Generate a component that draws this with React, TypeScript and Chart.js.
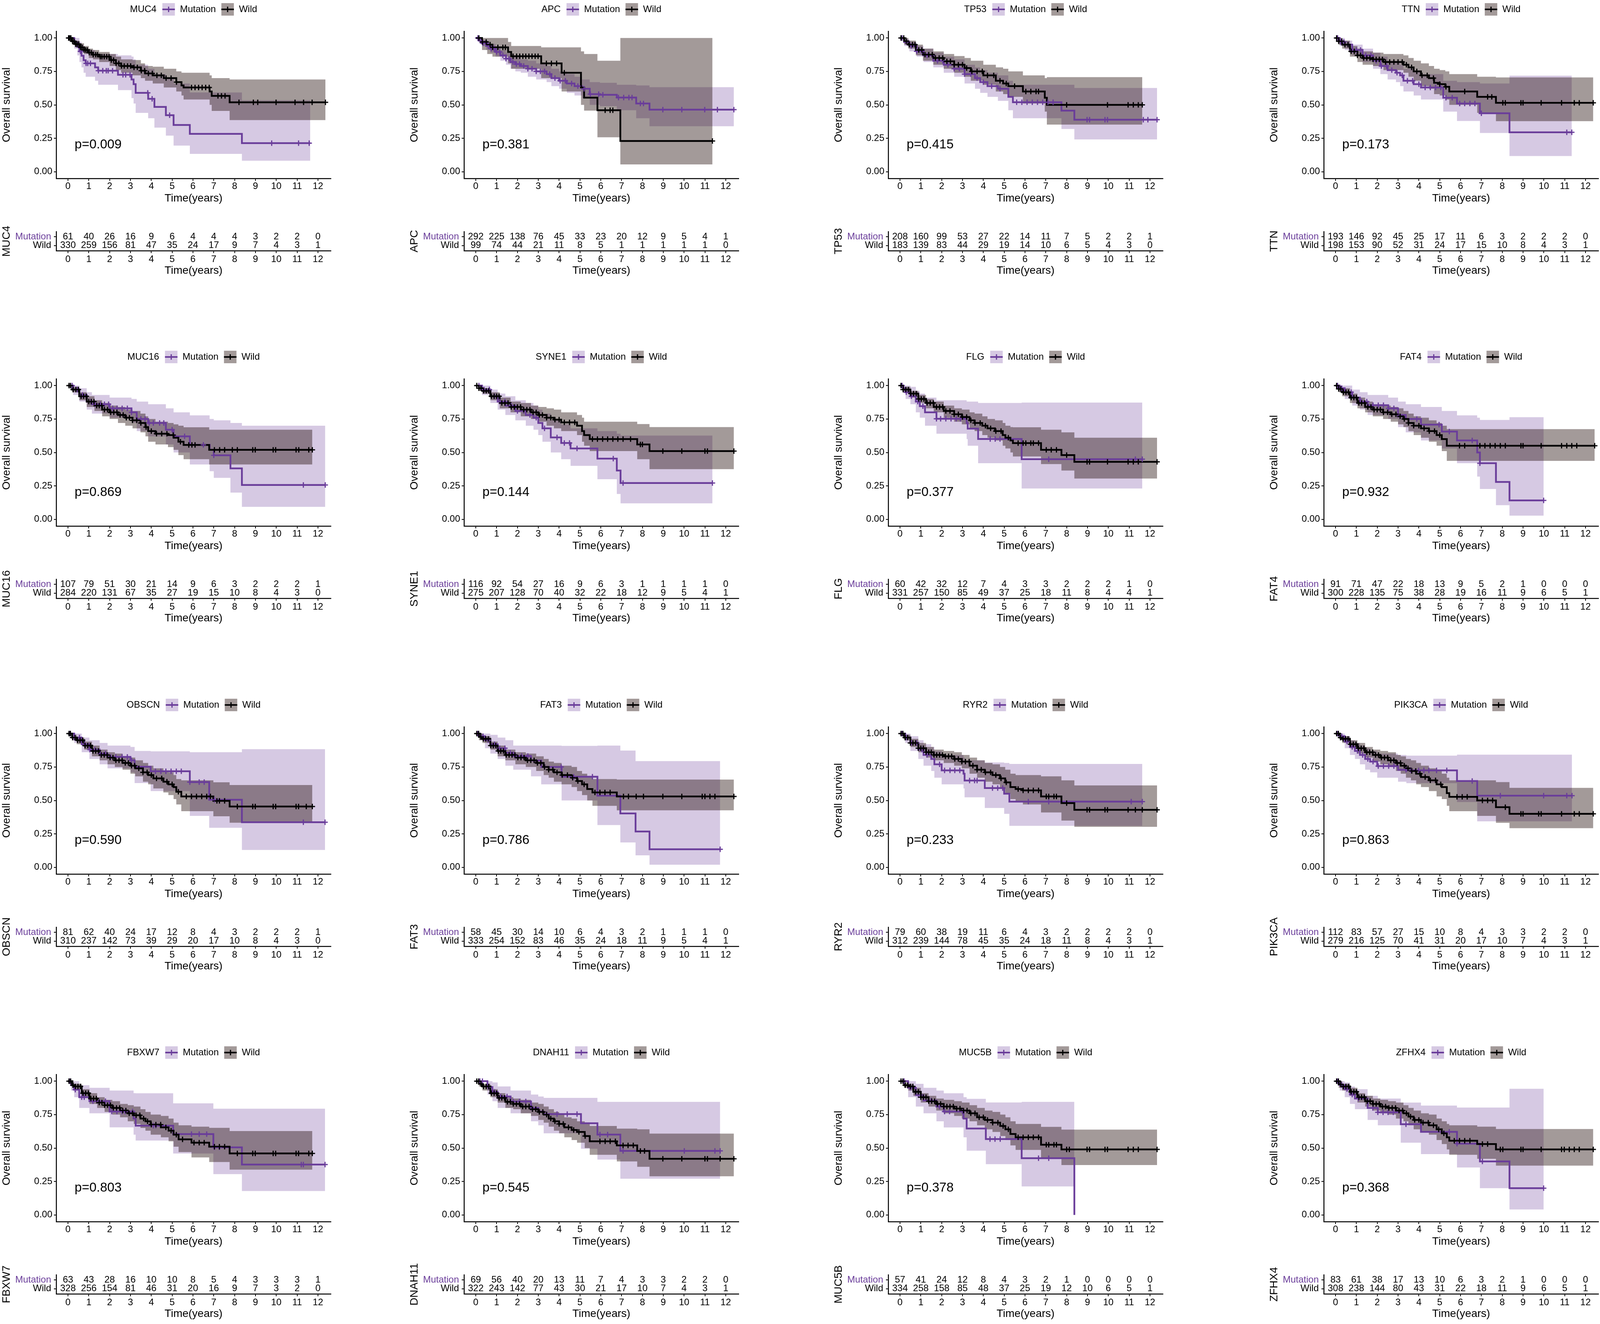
import React, { useEffect, useRef } from 'react';
import { Chart, registerables } from 'chart.js';
Chart.register(...registerables);

type Step = [number, number, number | null, number | null];

const FONT = '"Liberation Sans", Arial, Helvetica, sans-serif';
Chart.defaults.font.family = FONT;
Chart.defaults.color = '#000';

const GENES = ['MUC4', 'APC', 'TP53', 'TTN', 'MUC16', 'SYNE1', 'FLG', 'FAT4', 'OBSCN', 'FAT3', 'RYR2', 'PIK3CA', 'FBXW7', 'DNAH11', 'MUC5B', 'ZFHX4'];
const P_VALUES = ['0.009', '0.381', '0.415', '0.173', '0.869', '0.144', '0.377', '0.932', '0.590', '0.786', '0.233', '0.863', '0.803', '0.545', '0.378', '0.368'];
const TIME_TICKS = [0, 1, 2, 3, 4, 5, 6, 7, 8, 9, 10, 11, 12];
const SURV_TICKS = [0, 0.25, 0.5, 0.75, 1];
const STRATA = ['Mutation', 'Wild'];
const MUT_END = [11.63, 12.39, 12.34, 11.34, 12.35, 11.36, 11.63, 9.99, 12.34, 11.73, 11.63, 11.35, 12.34, 11.73, 8.37, 9.99];
const WILD_END = [12.36, 11.36, 11.63, 12.37, 11.73, 12.39, 12.34, 12.44, 11.73, 12.39, 12.34, 12.37, 11.73, 12.39, 12.34, 12.37];

// ---- MUC4
const MUC4_mut: Step[] = [[0.3,0.967,0.92,1.0],[0.45,0.933,0.87,1.0],[0.55,0.90,0.82,0.97],[0.65,0.867,0.78,0.95],[0.75,0.833,0.74,0.93],[0.85,0.81,0.71,0.91],[1.3,0.78,0.68,0.89],[1.45,0.755,0.65,0.88],[2.4,0.725,0.61,0.87],[3.05,0.69,0.55,0.86],[3.15,0.655,0.51,0.84],[3.25,0.59,0.44,0.80],[3.85,0.545,0.40,0.77],[4.15,0.485,0.33,0.73],[4.7,0.423,0.27,0.70],[5.07,0.35,0.196,0.66],[5.85,0.283,0.134,0.593],[8.35,0.214,0.083,0.534]];
const MUC4_wild: Step[] = [[0.2,0.975,0.95,1.0],[0.35,0.954,0.93,0.98],[0.55,0.93,0.90,0.96],[0.77,0.91,0.88,0.94],[1.0,0.89,0.85,0.92],[1.2,0.875,0.84,0.91],[1.5,0.86,0.82,0.895],[2.0,0.835,0.79,0.88],[2.3,0.81,0.76,0.86],[2.55,0.79,0.74,0.84],[3.1,0.78,0.72,0.835],[3.5,0.755,0.70,0.81],[3.7,0.735,0.68,0.79],[4.07,0.72,0.66,0.785],[4.6,0.70,0.63,0.77],[5.2,0.67,0.60,0.75],[5.45,0.645,0.57,0.74],[5.55,0.63,0.54,0.74],[6.8,0.60,0.50,0.72],[6.9,0.567,0.455,0.70],[7.76,0.519,0.386,0.69]];
const MUC4_mutCens = [0.05,0.6,0.87,0.95,1.08,1.46,1.67,1.84,1.93,2.14,2.64,2.77,2.98,3.83,4.04,4.88,9.78,11.07,11.58];
const MUC4_wildCens = [0.03,0.08,0.14,0.22,0.29,0.37,0.44,0.52,0.61,0.68,0.77,0.85,0.93,1.02,1.12,1.21,1.33,1.42,1.55,1.63,1.74,1.86,1.97,2.08,2.19,2.31,2.44,2.57,2.7,2.86,3.01,3.17,3.33,3.52,3.68,3.86,4.05,4.27,4.48,4.71,4.95,5.21,5.93,6.1,6.27,6.44,6.61,6.78,7.2,7.37,7.54,8.21,8.9,9.11,9.99,10.9,11.31,11.72,12.36];
const MUC4_riskMut = [61,40,26,16,9,6,4,4,4,3,2,2,0];
const MUC4_riskWild = [330,259,156,81,47,35,24,17,9,7,4,3,1];

// ---- APC
const APC_mut: Step[] = [[0.15,0.98,0.96,1.0],[0.3,0.96,0.94,0.985],[0.5,0.94,0.91,0.97],[0.7,0.92,0.89,0.955],[0.95,0.895,0.86,0.93],[1.18,0.87,0.83,0.91],[1.45,0.845,0.80,0.89],[1.67,0.82,0.77,0.87],[1.9,0.805,0.75,0.855],[2.16,0.79,0.74,0.84],[2.5,0.77,0.71,0.83],[2.9,0.75,0.69,0.81],[3.4,0.73,0.67,0.79],[3.63,0.70,0.64,0.77],[4.0,0.68,0.62,0.75],[4.37,0.66,0.59,0.73],[4.74,0.64,0.57,0.71],[5.1,0.62,0.55,0.69],[5.47,0.58,0.50,0.67],[5.96,0.575,0.49,0.665],[6.77,0.555,0.46,0.65],[7.7,0.51,0.40,0.645],[8.34,0.464,0.34,0.632]];
const APC_wild: Step[] = [[0.3,0.97,0.91,1.0],[0.55,0.95,0.88,1.0],[0.8,0.93,0.86,1.0],[1.55,0.895,0.81,0.97],[1.7,0.863,0.77,0.94],[3.14,0.81,0.70,0.93],[4.12,0.74,0.60,0.93],[5.05,0.63,0.50,0.90],[5.2,0.554,0.457,0.88],[5.84,0.46,0.258,0.83],[6.94,0.23,0.055,1.0]];
const APC_mutCens = [0.1,0.22,0.35,0.48,0.6,0.74,0.88,1.0,1.15,1.3,1.45,1.6,1.78,1.95,2.1,2.3,2.5,2.7,2.9,3.1,3.3,3.55,3.8,4.05,4.3,4.6,4.9,5.2,5.5,5.9,6.1,6.85,7.1,7.35,7.5,7.9,8.05,8.98,9.89,10.99,11.6,12.39];
const APC_wildCens = [0.15,0.32,0.5,0.69,0.81,1.06,1.3,1.42,1.79,1.96,2.11,2.26,2.4,2.55,2.7,2.85,2.99,3.39,3.63,3.88,4.25,6.21,6.45,6.58,11.36];
const APC_riskMut = [292,225,138,76,45,33,23,20,12,9,5,4,1];
const APC_riskWild = [99,74,44,21,11,8,5,1,1,1,1,1,0];

// ---- TP53
const TP53_mut: Step[] = [[0.2,0.97,0.94,0.99],[0.45,0.94,0.90,0.97],[0.8,0.90,0.86,0.94],[1.13,0.87,0.82,0.92],[1.6,0.83,0.78,0.89],[2.1,0.80,0.74,0.86],[2.6,0.77,0.71,0.84],[3.1,0.73,0.66,0.80],[3.6,0.70,0.62,0.78],[3.85,0.67,0.59,0.76],[4.2,0.64,0.56,0.74],[4.7,0.62,0.53,0.72],[5.2,0.56,0.46,0.68],[5.42,0.52,0.40,0.65],[7.75,0.457,0.32,0.65],[8.37,0.389,0.242,0.626]];
const TP53_wild: Step[] = [[0.2,0.975,0.95,1.0],[0.4,0.95,0.92,0.98],[0.76,0.91,0.87,0.95],[1.1,0.875,0.83,0.92],[1.6,0.85,0.80,0.90],[2.1,0.825,0.77,0.88],[2.6,0.80,0.74,0.865],[3.1,0.775,0.71,0.85],[3.4,0.75,0.68,0.83],[4.0,0.72,0.65,0.80],[4.6,0.68,0.60,0.78],[4.95,0.66,0.58,0.77],[5.2,0.64,0.56,0.75],[5.9,0.60,0.51,0.72],[6.95,0.553,0.45,0.70],[7.05,0.50,0.353,0.707]];
const TP53_mutCens = [0.1,0.3,0.55,0.8,1.05,1.3,1.55,1.8,2.05,2.3,2.6,2.85,3.1,3.4,3.7,4.0,4.4,4.8,5.6,5.85,6.1,6.35,6.6,6.85,7.1,7.35,8.98,9.1,9.84,9.96,11.68,11.9,12.34];
const TP53_wildCens = [0.05,0.18,0.3,0.45,0.6,0.72,0.9,1.05,1.2,1.38,1.55,1.7,1.88,2.05,2.25,2.42,2.6,2.8,3.0,3.2,3.45,3.7,3.95,4.2,4.5,4.8,5.1,5.5,6.04,6.28,6.53,6.65,8.0,9.96,10.95,11.2,11.44,11.63];
const TP53_riskMut = [208,160,99,53,27,22,14,11,7,5,2,2,1];
const TP53_riskWild = [183,139,83,44,29,19,14,10,6,5,4,3,0];

// ---- TTN
const TTN_mut: Step[] = [[0.2,0.97,0.94,1.0],[0.44,0.95,0.91,0.98],[0.8,0.91,0.87,0.95],[1.3,0.87,0.82,0.92],[1.8,0.83,0.77,0.89],[2.15,0.79,0.73,0.86],[2.5,0.76,0.69,0.83],[2.9,0.74,0.67,0.82],[3.1,0.72,0.64,0.80],[3.26,0.68,0.60,0.77],[3.75,0.655,0.57,0.75],[4.1,0.63,0.54,0.73],[5.17,0.553,0.45,0.68],[5.83,0.51,0.38,0.67],[6.93,0.437,0.29,0.66],[8.35,0.295,0.118,0.718]];
const TTN_wild: Step[] = [[0.15,0.975,0.95,1.0],[0.32,0.95,0.92,0.98],[0.69,0.90,0.86,0.94],[1.05,0.87,0.82,0.92],[1.3,0.85,0.80,0.90],[1.8,0.84,0.79,0.89],[2.3,0.82,0.76,0.88],[3.26,0.80,0.74,0.87],[3.5,0.78,0.71,0.85],[3.75,0.75,0.68,0.83],[4.1,0.72,0.64,0.81],[4.48,0.70,0.62,0.79],[4.73,0.665,0.58,0.77],[5.0,0.655,0.57,0.76],[5.27,0.635,0.54,0.75],[5.46,0.60,0.50,0.73],[6.8,0.56,0.44,0.71],[7.7,0.515,0.378,0.705]];
const TTN_mutCens = [0.1,0.25,0.4,0.6,0.8,1.0,1.2,1.45,1.7,1.95,2.2,2.45,2.7,2.95,3.2,3.45,3.7,4.0,4.3,4.55,4.8,5.05,5.3,5.6,5.96,6.2,6.45,6.69,7.0,11.1,11.34];
const TTN_wildCens = [0.05,0.15,0.3,0.45,0.6,0.75,0.9,1.05,1.2,1.35,1.5,1.65,1.8,1.95,2.1,2.25,2.4,2.6,2.8,3.0,3.2,3.4,3.65,3.9,4.15,4.4,4.7,5.0,5.3,6.2,7.3,7.5,8.03,8.15,8.9,9.0,9.87,10.85,11.46,11.7,12.37];
const TTN_riskMut = [193,146,92,45,25,17,11,6,3,2,2,2,0];
const TTN_riskWild = [198,153,90,52,31,24,17,15,10,8,4,3,1];

// ---- MUC16
const MUC16_mut: Step[] = [[0.25,0.97,0.93,1.0],[0.55,0.93,0.88,0.98],[0.9,0.88,0.82,0.95],[1.15,0.86,0.79,0.93],[2.0,0.83,0.76,0.91],[3.05,0.80,0.72,0.90],[3.3,0.75,0.66,0.88],[3.85,0.72,0.62,0.86],[4.7,0.67,0.56,0.83],[5.07,0.62,0.50,0.80],[5.85,0.557,0.41,0.777],[6.8,0.52,0.36,0.75],[7.0,0.479,0.31,0.74],[7.8,0.381,0.20,0.72],[8.35,0.257,0.094,0.70]];
const MUC16_wild: Step[] = [[0.2,0.97,0.95,0.99],[0.54,0.92,0.89,0.95],[0.9,0.88,0.84,0.92],[1.27,0.85,0.81,0.89],[1.64,0.82,0.77,0.87],[2.0,0.80,0.75,0.85],[2.4,0.78,0.72,0.84],[2.75,0.76,0.70,0.82],[3.1,0.74,0.68,0.81],[3.48,0.72,0.65,0.79],[3.72,0.69,0.62,0.77],[3.85,0.66,0.58,0.75],[4.2,0.64,0.56,0.73],[4.8,0.63,0.54,0.72],[5.07,0.61,0.52,0.71],[5.3,0.58,0.48,0.70],[5.55,0.556,0.45,0.688],[6.78,0.52,0.41,0.67]];
const MUC16_mutCens = [0.2,0.45,0.7,1.1,1.3,1.55,1.75,1.95,2.15,2.35,2.6,2.85,3.05,3.5,3.7,3.9,4.1,4.4,4.6,5.0,5.6,6.5,7.0,11.3,12.35];
const MUC16_wildCens = [0.05,0.12,0.25,0.38,0.5,0.63,0.75,0.88,1.0,1.12,1.25,1.38,1.5,1.62,1.75,1.9,2.05,2.2,2.35,2.5,2.65,2.8,2.95,3.1,3.3,3.5,3.75,4.0,4.25,4.5,4.75,5.05,5.4,5.8,5.95,6.1,7.03,7.28,7.52,7.89,8.13,8.87,8.99,9.85,9.97,10.95,11.08,11.56,11.73];
const MUC16_riskMut = [107,79,51,30,21,14,9,6,3,2,2,2,1];
const MUC16_riskWild = [284,220,131,67,35,27,19,15,10,8,4,3,0];

// ---- SYNE1
const SYNE1_mut: Step[] = [[0.3,0.97,0.93,1.0],[0.7,0.92,0.87,0.97],[1.05,0.88,0.82,0.94],[1.42,0.85,0.78,0.92],[1.9,0.81,0.74,0.89],[2.4,0.78,0.70,0.87],[2.77,0.76,0.67,0.85],[3.0,0.72,0.63,0.82],[3.2,0.68,0.58,0.79],[3.6,0.612,0.50,0.74],[4.1,0.571,0.45,0.71],[4.55,0.53,0.40,0.68],[5.84,0.454,0.30,0.66],[6.77,0.365,0.19,0.64],[6.95,0.272,0.12,0.626]];
const SYNE1_wild: Step[] = [[0.15,0.98,0.96,1.0],[0.32,0.96,0.94,0.98],[0.7,0.92,0.89,0.95],[1.15,0.87,0.83,0.91],[1.67,0.84,0.80,0.88],[2.16,0.82,0.77,0.87],[2.65,0.80,0.75,0.85],[3.0,0.78,0.73,0.84],[3.4,0.76,0.70,0.83],[3.75,0.745,0.68,0.82],[4.1,0.725,0.66,0.80],[4.86,0.70,0.63,0.78],[5.1,0.66,0.58,0.76],[5.2,0.63,0.55,0.73],[5.47,0.60,0.51,0.73],[7.75,0.56,0.45,0.712],[8.34,0.51,0.375,0.69]];
const SYNE1_mutCens = [0.15,0.4,0.65,0.9,1.15,1.4,1.7,2.0,2.3,2.6,2.9,3.3,3.9,4.25,4.5,4.86,6.6,7.07,11.36];
const SYNE1_wildCens = [0.05,0.15,0.25,0.38,0.5,0.62,0.75,0.88,1.0,1.12,1.25,1.4,1.55,1.7,1.85,2.0,2.15,2.3,2.45,2.6,2.75,2.9,3.05,3.2,3.4,3.6,3.8,4.0,4.25,4.5,4.75,5.6,5.84,6.09,6.33,6.58,6.82,7.07,7.43,7.9,8.0,8.98,9.89,11.0,11.12,12.39];
const SYNE1_riskMut = [116,92,54,27,16,9,6,3,1,1,1,1,0];
const SYNE1_riskWild = [275,207,128,70,40,32,22,18,12,9,5,4,1];

// ---- FLG
const FLG_mut: Step[] = [[0.15,0.98,0.95,1.0],[0.27,0.95,0.90,1.0],[0.5,0.92,0.86,0.99],[0.76,0.88,0.80,0.96],[0.95,0.846,0.76,0.94],[1.2,0.80,0.70,0.91],[1.75,0.752,0.64,0.89],[3.2,0.72,0.60,0.88],[3.25,0.678,0.55,0.88],[3.75,0.601,0.42,0.87],[5.84,0.45,0.231,0.873]];
const FLG_wild: Step[] = [[0.15,0.97,0.95,0.99],[0.5,0.94,0.91,0.96],[0.88,0.90,0.87,0.93],[1.25,0.87,0.83,0.90],[1.62,0.84,0.80,0.88],[2.1,0.81,0.76,0.85],[2.6,0.785,0.73,0.83],[2.97,0.765,0.71,0.82],[3.34,0.74,0.68,0.80],[3.58,0.72,0.66,0.79],[3.95,0.70,0.63,0.77],[4.2,0.68,0.61,0.75],[4.56,0.66,0.59,0.74],[4.93,0.63,0.55,0.72],[5.06,0.61,0.53,0.70],[5.3,0.59,0.50,0.69],[5.42,0.57,0.47,0.688],[6.77,0.52,0.413,0.67],[7.75,0.48,0.365,0.65],[8.37,0.43,0.305,0.61]];
const FLG_mutCens = [0.1,0.3,0.55,0.85,1.1,1.75,1.95,2.2,2.45,2.7,2.9,4.33,4.57,4.8,7.14,11.3,11.63];
const FLG_wildCens = [0.05,0.15,0.28,0.4,0.52,0.65,0.78,0.9,1.02,1.15,1.3,1.45,1.6,1.75,1.9,2.05,2.2,2.4,2.6,2.8,3.0,3.2,3.4,3.6,3.85,4.1,4.35,4.6,4.85,5.2,5.67,5.91,6.04,6.28,6.4,6.65,7.02,7.26,7.51,8.0,8.98,9.1,9.96,10.95,11.2,11.44,12.34];
const FLG_riskMut = [60,42,32,12,7,4,3,3,2,2,2,1,0];
const FLG_riskWild = [331,257,150,85,49,37,25,18,11,8,4,4,1];

// ---- FAT4
const FAT4_mut: Step[] = [[0.2,0.98,0.95,1.0],[0.44,0.95,0.90,1.0],[0.8,0.91,0.85,0.97],[1.17,0.88,0.82,0.95],[1.54,0.853,0.78,0.93],[2.53,0.83,0.75,0.91],[3.0,0.78,0.69,0.88],[3.37,0.75,0.65,0.86],[4.1,0.708,0.59,0.84],[5.1,0.656,0.53,0.81],[5.83,0.59,0.42,0.777],[6.8,0.50,0.32,0.76],[6.93,0.42,0.227,0.743],[7.7,0.28,0.106,0.743],[8.35,0.142,0.028,0.763]];
const FAT4_wild: Step[] = [[0.15,0.975,0.95,1.0],[0.32,0.95,0.92,0.98],[0.69,0.91,0.87,0.94],[1.05,0.87,0.83,0.91],[1.42,0.84,0.80,0.88],[1.79,0.82,0.77,0.86],[2.28,0.80,0.75,0.85],[2.65,0.785,0.73,0.84],[3.0,0.77,0.71,0.83],[3.26,0.75,0.69,0.81],[3.5,0.72,0.66,0.79],[3.75,0.70,0.63,0.77],[4.1,0.68,0.61,0.76],[4.48,0.66,0.58,0.74],[4.85,0.63,0.55,0.72],[5.1,0.60,0.51,0.70],[5.34,0.55,0.437,0.674]];
const FAT4_mutCens = [0.1,0.3,0.5,0.75,1.0,1.25,1.5,1.8,2.05,2.3,2.55,2.8,3.0,3.9,4.97,5.46,6.56,6.93,9.99];
const FAT4_wildCens = [0.05,0.15,0.25,0.38,0.5,0.62,0.75,0.88,1.0,1.12,1.25,1.4,1.55,1.7,1.85,2.0,2.15,2.3,2.5,2.7,2.9,3.1,3.3,3.5,3.75,4.0,4.25,4.5,4.75,5.0,5.95,6.2,6.93,7.17,7.42,7.66,7.91,8.15,8.9,9.0,9.87,10.85,11.1,11.34,11.58,12.44];
const FAT4_riskMut = [91,71,47,22,18,13,9,5,2,1,0,0,0];
const FAT4_riskWild = [300,228,135,75,38,28,19,16,11,9,6,5,1];

// ---- OBSCN
const OBSCN_mut: Step[] = [[0.3,0.97,0.93,1.0],[0.66,0.92,0.86,0.97],[1.03,0.88,0.81,0.95],[1.52,0.85,0.77,0.93],[1.9,0.825,0.74,0.91],[3.0,0.80,0.71,0.90],[3.2,0.752,0.63,0.87],[3.97,0.718,0.57,0.867],[5.85,0.637,0.385,0.86],[6.78,0.505,0.296,0.86],[8.35,0.337,0.13,0.883]];
const OBSCN_wild: Step[] = [[0.2,0.97,0.95,0.99],[0.42,0.95,0.92,0.97],[0.78,0.91,0.88,0.94],[1.15,0.87,0.83,0.91],[1.52,0.84,0.80,0.88],[1.9,0.82,0.77,0.86],[2.25,0.80,0.75,0.85],[2.62,0.78,0.73,0.83],[3.0,0.76,0.70,0.82],[3.23,0.74,0.68,0.80],[3.6,0.71,0.64,0.78],[3.85,0.69,0.62,0.76],[4.1,0.665,0.59,0.74],[4.58,0.64,0.56,0.72],[4.82,0.62,0.54,0.71],[5.07,0.60,0.51,0.69],[5.2,0.565,0.47,0.66],[5.44,0.53,0.42,0.65],[6.98,0.497,0.382,0.636],[7.76,0.455,0.334,0.615]];
const OBSCN_mutCens = [0.1,0.3,0.55,0.8,1.05,1.3,1.55,1.8,2.05,2.3,2.6,2.85,3.05,4.2,4.46,4.7,4.95,5.2,5.44,5.85,6.3,6.54,7.03,11.3,12.34];
const OBSCN_wildCens = [0.05,0.12,0.22,0.34,0.46,0.58,0.7,0.82,0.95,1.08,1.2,1.33,1.46,1.6,1.74,1.88,2.02,2.16,2.3,2.45,2.6,2.75,2.9,3.05,3.2,3.4,3.6,3.8,4.0,4.25,4.5,4.75,5.0,5.3,5.68,5.93,6.17,6.42,6.66,6.84,7.15,7.27,7.52,8.13,8.87,8.99,9.85,9.97,10.95,11.07,11.44,11.73];
const OBSCN_riskMut = [81,62,40,24,17,12,8,4,3,2,2,2,1];
const OBSCN_riskWild = [310,237,142,73,39,29,20,17,10,8,4,3,0];

// ---- FAT3
const FAT3_mut: Step[] = [[0.2,0.98,0.95,1.0],[0.44,0.95,0.89,1.0],[0.7,0.92,0.85,0.99],[1.05,0.89,0.81,0.97],[1.42,0.857,0.76,0.95],[1.8,0.832,0.73,0.91],[2.65,0.798,0.68,0.91],[3.14,0.75,0.62,0.91],[4.12,0.677,0.50,0.908],[5.84,0.536,0.316,0.91],[6.94,0.403,0.186,0.873],[7.67,0.268,0.09,0.794],[8.34,0.135,0.02,0.794]];
const FAT3_wild: Step[] = [[0.15,0.975,0.95,1.0],[0.32,0.96,0.93,0.98],[0.7,0.91,0.88,0.94],[1.05,0.87,0.83,0.91],[1.42,0.84,0.80,0.88],[1.9,0.82,0.77,0.86],[2.4,0.80,0.75,0.85],[2.9,0.78,0.72,0.83],[3.26,0.75,0.69,0.81],[3.5,0.73,0.67,0.79],[3.75,0.71,0.64,0.78],[4.12,0.69,0.62,0.76],[4.6,0.67,0.60,0.75],[4.86,0.645,0.57,0.72],[5.1,0.62,0.54,0.70],[5.35,0.585,0.50,0.68],[5.6,0.56,0.46,0.66],[6.77,0.53,0.426,0.656]];
const FAT3_mutCens = [0.1,0.35,0.6,0.9,1.15,1.4,1.65,1.9,2.2,2.5,2.8,3.3,4.1,4.7,5.6,11.73];
const FAT3_wildCens = [0.05,0.14,0.24,0.36,0.48,0.6,0.72,0.84,0.96,1.08,1.2,1.33,1.46,1.6,1.74,1.88,2.02,2.17,2.32,2.48,2.64,2.8,2.96,3.12,3.3,3.5,3.7,3.9,4.15,4.4,4.65,4.9,5.2,5.72,5.96,6.2,6.45,7.09,7.33,7.7,8.05,8.98,9.89,10.87,11.0,11.24,11.48,12.39];
const FAT3_riskMut = [58,45,30,14,10,6,4,3,2,1,1,1,0];
const FAT3_riskWild = [333,254,152,83,46,35,24,18,11,9,5,4,1];

// ---- RYR2
const RYR2_mut: Step[] = [[0.25,0.97,0.93,1.0],[0.5,0.93,0.87,0.98],[0.88,0.88,0.81,0.95],[1.13,0.84,0.76,0.92],[1.5,0.81,0.72,0.90],[1.65,0.77,0.67,0.87],[2.0,0.725,0.62,0.84],[3.05,0.70,0.59,0.82],[3.1,0.649,0.523,0.80],[4.07,0.593,0.444,0.784],[5.0,0.55,0.40,0.78],[5.25,0.491,0.31,0.773]];
const RYR2_wild: Step[] = [[0.2,0.97,0.95,0.99],[0.5,0.93,0.90,0.96],[0.88,0.89,0.86,0.93],[1.25,0.86,0.82,0.90],[1.62,0.84,0.80,0.88],[2.1,0.83,0.78,0.87],[2.6,0.81,0.76,0.86],[2.97,0.79,0.74,0.84],[3.34,0.76,0.70,0.82],[3.7,0.73,0.67,0.80],[4.07,0.71,0.64,0.78],[4.44,0.69,0.62,0.77],[4.8,0.665,0.59,0.75],[5.05,0.635,0.55,0.73],[5.3,0.60,0.51,0.70],[5.55,0.585,0.49,0.69],[5.9,0.575,0.47,0.69],[6.77,0.53,0.41,0.68],[7.75,0.48,0.35,0.65],[8.37,0.43,0.303,0.612]];
const RYR2_mutCens = [0.1,0.3,0.55,0.8,1.05,1.3,1.9,2.14,2.4,2.63,2.87,3.34,3.58,3.7,4.44,4.69,4.93,6.16,7.14,11.1,11.63];
const RYR2_wildCens = [0.05,0.14,0.25,0.37,0.5,0.62,0.75,0.88,1.0,1.12,1.25,1.38,1.5,1.63,1.76,1.9,2.04,2.18,2.33,2.48,2.63,2.8,2.97,3.14,3.32,3.5,3.7,3.9,4.1,4.35,4.6,4.85,5.1,5.67,5.91,6.16,6.4,6.65,7.02,7.14,7.39,7.51,8.0,8.98,9.1,9.84,9.96,10.95,11.3,11.63,12.34];
const RYR2_riskMut = [79,60,38,19,11,6,4,3,2,2,2,2,0];
const RYR2_riskWild = [312,239,144,78,45,35,24,18,11,8,4,3,1];

// ---- PIK3CA
const PIK3CA_mut: Step[] = [[0.2,0.98,0.95,1.0],[0.44,0.94,0.89,0.98],[0.69,0.90,0.84,0.95],[0.93,0.87,0.81,0.93],[1.17,0.84,0.77,0.91],[1.42,0.81,0.73,0.89],[1.66,0.79,0.71,0.87],[2.0,0.757,0.67,0.85],[3.0,0.729,0.64,0.84],[3.4,0.725,0.629,0.835],[5.83,0.645,0.488,0.842],[6.8,0.536,0.344,0.842]];
const PIK3CA_wild: Step[] = [[0.2,0.97,0.95,0.99],[0.32,0.96,0.93,0.98],[0.69,0.92,0.89,0.95],[1.05,0.89,0.85,0.93],[1.42,0.86,0.82,0.90],[1.79,0.84,0.79,0.88],[2.15,0.82,0.77,0.87],[2.52,0.80,0.75,0.86],[2.9,0.78,0.72,0.84],[3.13,0.76,0.70,0.83],[3.38,0.74,0.67,0.81],[3.62,0.72,0.65,0.80],[3.87,0.70,0.62,0.78],[4.1,0.675,0.60,0.76],[4.48,0.65,0.57,0.74],[4.85,0.62,0.53,0.72],[5.1,0.60,0.51,0.70],[5.34,0.555,0.46,0.67],[5.46,0.527,0.42,0.65],[6.8,0.50,0.385,0.65],[7.7,0.45,0.333,0.637],[8.35,0.40,0.293,0.594]];
const PIK3CA_mutCens = [0.1,0.3,0.55,0.8,1.05,1.3,1.55,1.8,2.05,2.3,2.55,2.8,3.38,3.62,3.99,4.24,4.48,4.85,5.34,6.56,7.91,9.99,11.1,11.35];
const PIK3CA_wildCens = [0.05,0.14,0.24,0.36,0.48,0.6,0.72,0.85,0.98,1.1,1.23,1.36,1.5,1.64,1.78,1.92,2.06,2.2,2.35,2.5,2.65,2.8,2.96,3.12,3.3,3.48,3.66,3.85,4.05,4.3,4.55,4.8,5.05,5.83,6.08,6.32,7.05,7.3,7.54,8.15,8.9,9.0,9.75,9.87,10.85,11.46,11.7,12.37];
const PIK3CA_riskMut = [112,83,57,27,15,10,8,4,3,3,2,2,0];
const PIK3CA_riskWild = [279,216,125,70,41,31,20,17,10,7,4,3,1];

// ---- FBXW7
const FBXW7_mut: Step[] = [[0.15,0.97,0.93,1.0],[0.3,0.936,0.88,1.0],[0.54,0.88,0.80,0.97],[1.03,0.85,0.76,0.95],[2.0,0.773,0.655,0.93],[3.15,0.72,0.60,0.91],[3.25,0.667,0.556,0.909],[5.05,0.604,0.459,0.834],[6.98,0.505,0.305,0.794],[8.35,0.377,0.179,0.794]];
const FBXW7_wild: Step[] = [[0.2,0.97,0.95,0.99],[0.3,0.96,0.94,0.98],[0.66,0.91,0.88,0.94],[1.03,0.87,0.83,0.91],[1.4,0.84,0.80,0.88],[1.76,0.82,0.77,0.86],[2.13,0.80,0.75,0.85],[2.5,0.78,0.73,0.83],[2.87,0.76,0.70,0.82],[3.16,0.745,0.68,0.81],[3.48,0.72,0.65,0.79],[3.72,0.70,0.63,0.77],[3.97,0.675,0.60,0.75],[4.46,0.655,0.58,0.74],[4.83,0.63,0.55,0.72],[5.07,0.60,0.51,0.69],[5.31,0.565,0.47,0.67],[5.93,0.54,0.43,0.66],[6.78,0.51,0.396,0.651],[7.76,0.46,0.339,0.627]];
const FBXW7_mutCens = [0.1,0.35,0.66,0.78,1.2,1.5,1.8,2.1,2.35,2.6,2.75,3.1,4.1,4.22,5.93,6.3,6.66,7.03,7.27,11.2,11.3,12.34];
const FBXW7_wildCens = [0.05,0.13,0.24,0.36,0.48,0.6,0.72,0.85,0.98,1.1,1.23,1.36,1.5,1.63,1.76,1.9,2.04,2.18,2.33,2.48,2.63,2.78,2.94,3.1,3.27,3.45,3.63,3.82,4.0,4.22,4.45,4.7,4.95,5.2,5.5,6.05,6.3,6.54,7.03,7.27,7.52,8.13,8.87,8.99,9.85,9.97,10.95,11.07,11.56,11.73];
const FBXW7_riskMut = [63,43,28,16,10,10,8,5,4,3,3,3,1];
const FBXW7_riskWild = [328,256,154,81,46,31,20,16,9,7,3,2,0];

// ---- DNAH11
const DNAH11_mut: Step[] = [[0.56,0.956,0.90,1.0],[0.8,0.92,0.85,0.99],[1.05,0.885,0.80,0.96],[1.67,0.848,0.76,0.93],[2.65,0.80,0.70,0.90],[3.0,0.773,0.67,0.885],[3.26,0.754,0.61,0.875],[5.05,0.685,0.495,0.875],[5.84,0.601,0.414,0.845],[6.94,0.479,0.271,0.845]];
const DNAH11_wild: Step[] = [[0.15,0.98,0.96,1.0],[0.32,0.96,0.93,0.98],[0.7,0.91,0.88,0.94],[1.05,0.875,0.84,0.91],[1.42,0.845,0.80,0.88],[1.8,0.83,0.79,0.87],[2.16,0.81,0.76,0.86],[2.65,0.79,0.74,0.84],[3.0,0.77,0.71,0.83],[3.26,0.75,0.69,0.81],[3.5,0.72,0.66,0.79],[3.75,0.70,0.63,0.77],[4.0,0.68,0.61,0.75],[4.25,0.655,0.58,0.73],[4.6,0.635,0.56,0.72],[4.86,0.62,0.54,0.70],[5.23,0.59,0.50,0.68],[5.47,0.55,0.45,0.665],[6.77,0.52,0.40,0.645],[7.75,0.478,0.36,0.64],[8.34,0.42,0.289,0.608]];
const DNAH11_mutCens = [0.2,0.32,0.6,0.9,1.2,1.5,1.8,2.1,2.4,2.7,3.4,3.9,4.39,4.86,5.96,6.33,7.07,10.01,11.48,11.73];
const DNAH11_wildCens = [0.05,0.14,0.25,0.37,0.5,0.62,0.75,0.88,1.0,1.12,1.25,1.38,1.52,1.66,1.8,1.95,2.1,2.25,2.4,2.56,2.72,2.88,3.05,3.22,3.4,3.6,3.8,4.0,4.2,4.45,4.7,4.95,5.25,5.96,6.21,6.45,6.7,7.07,7.31,7.56,7.9,8.1,8.98,9.89,11.0,11.12,11.73,12.39];
const DNAH11_riskMut = [69,56,40,20,13,11,7,4,3,3,2,2,0];
const DNAH11_riskWild = [322,243,142,77,43,30,21,17,10,7,4,3,1];

// ---- MUC5B
const MUC5B_mut: Step[] = [[0.39,0.95,0.88,1.0],[0.76,0.895,0.81,0.98],[1.13,0.855,0.76,0.95],[1.75,0.81,0.70,0.93],[2.1,0.773,0.654,0.909],[3.05,0.72,0.58,0.88],[3.2,0.646,0.48,0.868],[4.12,0.567,0.38,0.841],[5.84,0.424,0.213,0.845],[8.37,0.0,null,null]];
const MUC5B_wild: Step[] = [[0.2,0.97,0.95,0.99],[0.4,0.96,0.93,0.98],[0.64,0.92,0.89,0.95],[1.0,0.88,0.84,0.91],[1.37,0.85,0.81,0.89],[1.74,0.83,0.78,0.87],[2.1,0.81,0.76,0.86],[2.6,0.795,0.74,0.85],[2.97,0.78,0.72,0.84],[3.34,0.76,0.70,0.82],[3.7,0.73,0.67,0.80],[4.07,0.71,0.64,0.78],[4.44,0.69,0.62,0.77],[4.81,0.665,0.59,0.75],[5.06,0.64,0.56,0.73],[5.3,0.605,0.52,0.70],[5.55,0.58,0.486,0.68],[6.77,0.525,0.427,0.658],[7.75,0.49,0.373,0.638]];
const MUC5B_mutCens = [0.2,0.5,0.88,1.5,1.9,2.14,2.38,3.0,4.32,4.56,4.81,6.65,7.14];
const MUC5B_wildCens = [0.05,0.14,0.25,0.37,0.5,0.62,0.75,0.88,1.0,1.12,1.25,1.38,1.52,1.66,1.8,1.95,2.1,2.25,2.4,2.56,2.72,2.88,3.05,3.22,3.4,3.6,3.8,4.0,4.2,4.45,4.7,4.95,5.2,5.67,5.91,6.16,6.4,6.65,7.02,7.14,7.39,7.51,8.0,8.13,8.98,9.1,9.84,9.96,10.95,11.2,11.44,12.34];
const MUC5B_riskMut = [57,41,24,12,8,4,3,2,1,0,0,0,0];
const MUC5B_riskWild = [334,258,158,85,48,37,25,19,12,10,6,5,1];

// ---- ZFHX4
const ZFHX4_mut: Step[] = [[0.2,0.97,0.93,1.0],[0.44,0.94,0.88,0.99],[0.69,0.90,0.83,0.96],[0.93,0.87,0.79,0.94],[1.54,0.80,0.71,0.89],[2.03,0.767,0.67,0.87],[3.13,0.678,0.54,0.84],[4.1,0.621,0.455,0.817],[5.83,0.533,0.355,0.803],[6.93,0.40,0.20,0.803],[8.35,0.20,0.041,0.943]];
const ZFHX4_wild: Step[] = [[0.15,0.975,0.95,1.0],[0.32,0.96,0.93,0.98],[0.69,0.92,0.89,0.95],[1.05,0.88,0.84,0.91],[1.42,0.85,0.81,0.89],[1.79,0.83,0.78,0.87],[2.15,0.81,0.76,0.86],[2.52,0.80,0.75,0.85],[2.9,0.78,0.72,0.84],[3.26,0.76,0.70,0.82],[3.5,0.735,0.67,0.80],[3.75,0.71,0.64,0.78],[4.1,0.69,0.62,0.76],[4.48,0.67,0.60,0.75],[4.85,0.64,0.56,0.72],[5.1,0.61,0.53,0.70],[5.34,0.58,0.49,0.68],[5.46,0.555,0.45,0.67],[6.8,0.53,0.42,0.66],[7.7,0.49,0.369,0.642]];
const ZFHX4_mutCens = [0.1,0.3,0.55,0.8,1.1,1.79,2.03,2.28,2.52,2.77,3.38,5.46,5.83,7.05,9.99];
const ZFHX4_wildCens = [0.05,0.14,0.25,0.37,0.5,0.62,0.75,0.88,1.0,1.12,1.25,1.38,1.52,1.66,1.8,1.95,2.1,2.25,2.4,2.56,2.72,2.88,3.05,3.22,3.4,3.6,3.8,4.0,4.2,4.45,4.7,4.95,5.2,5.7,5.95,6.2,6.45,7.05,7.3,7.91,8.03,8.9,9.0,9.87,10.85,10.98,11.22,11.46,11.7,12.37];
const ZFHX4_riskMut = [83,61,38,17,13,10,6,3,2,1,0,0,0];
const ZFHX4_riskWild = [308,238,144,80,43,31,22,18,11,9,6,5,1];

const MUT_STEPS = [MUC4_mut, APC_mut, TP53_mut, TTN_mut, MUC16_mut, SYNE1_mut, FLG_mut, FAT4_mut, OBSCN_mut, FAT3_mut, RYR2_mut, PIK3CA_mut, FBXW7_mut, DNAH11_mut, MUC5B_mut, ZFHX4_mut];
const WILD_STEPS = [MUC4_wild, APC_wild, TP53_wild, TTN_wild, MUC16_wild, SYNE1_wild, FLG_wild, FAT4_wild, OBSCN_wild, FAT3_wild, RYR2_wild, PIK3CA_wild, FBXW7_wild, DNAH11_wild, MUC5B_wild, ZFHX4_wild];
const MUT_CENS = [MUC4_mutCens, APC_mutCens, TP53_mutCens, TTN_mutCens, MUC16_mutCens, SYNE1_mutCens, FLG_mutCens, FAT4_mutCens, OBSCN_mutCens, FAT3_mutCens, RYR2_mutCens, PIK3CA_mutCens, FBXW7_mutCens, DNAH11_mutCens, MUC5B_mutCens, ZFHX4_mutCens];
const WILD_CENS = [MUC4_wildCens, APC_wildCens, TP53_wildCens, TTN_wildCens, MUC16_wildCens, SYNE1_wildCens, FLG_wildCens, FAT4_wildCens, OBSCN_wildCens, FAT3_wildCens, RYR2_wildCens, PIK3CA_wildCens, FBXW7_wildCens, DNAH11_wildCens, MUC5B_wildCens, ZFHX4_wildCens];
const RISK_MUT = [MUC4_riskMut, APC_riskMut, TP53_riskMut, TTN_riskMut, MUC16_riskMut, SYNE1_riskMut, FLG_riskMut, FAT4_riskMut, OBSCN_riskMut, FAT3_riskMut, RYR2_riskMut, PIK3CA_riskMut, FBXW7_riskMut, DNAH11_riskMut, MUC5B_riskMut, ZFHX4_riskMut];
const RISK_WILD = [MUC4_riskWild, APC_riskWild, TP53_riskWild, TTN_riskWild, MUC16_riskWild, SYNE1_riskWild, FLG_riskWild, FAT4_riskWild, OBSCN_riskWild, FAT3_riskWild, RYR2_riskWild, PIK3CA_riskWild, FBXW7_riskWild, DNAH11_riskWild, MUC5B_riskWild, ZFHX4_riskWild];

// ---- styling / layout
const PURPLE = '#6a3d9a';
const MUT_FILL = 'rgba(106,61,154,0.28)';
const WILD_FILL = 'rgba(25,3,0,0.40)';
const X_MIN = -0.5625;
const X_MAX = 12.62;
const COL_AXIS = [144, 1188, 2274, 3389];
const ROW_STEP = 890.3;
const Y_AXIS_W = 150;
const CANVAS_W = 873;
const KM_H = 540;
const RT_TOP = 545;
const RT_H = 190;
const STEP_MODE = 'before';
const LINE_W = 4.5;

function survAt(steps: Step[], t: number): number {
  let s = 1;
  for (const st of steps) {
    if (st[0] <= t + 1e-9) s = st[1];
    else break;
  }
  return s;
}
function lineData(steps: Step[], end: number) {
  const pts = [{ x: 0, y: 1 }];
  steps.forEach((st) => pts.push({ x: st[0], y: st[1] }));
  pts.push({ x: end, y: steps.length ? steps[steps.length - 1][1] : 1 });
  return pts;
}
function bandData(steps: Step[], end: number, k: 2 | 3) {
  const pts = [{ x: 0, y: 1 }];
  let last = 1;
  let bandEnd = end;
  for (const st of steps) {
    const v = st[k];
    if (v === null) { bandEnd = st[0]; break; }
    pts.push({ x: st[0], y: v });
    last = v;
  }
  pts.push({ x: bandEnd, y: last });
  return pts;
}
function censData(steps: Step[], times: number[]) {
  return times.map((t) => ({ x: t, y: survAt(steps, t) }));
}

const font = (size: number) => ({ family: FONT, size, weight: 'normal' as const });

function xScale(height: number, titleBottom: number, tickPad: number) {
  return {
    type: 'linear' as const,
    min: X_MIN,
    max: X_MAX,
    afterBuildTicks: (s: any) => { s.ticks = TIME_TICKS.map((v) => ({ value: v })); },
    afterFit: (s: any) => { s.height = height; },
    ticks: { font: font(24), color: '#000', padding: tickPad, maxRotation: 0, autoSkip: false, callback: (v: any) => String(v) },
    grid: { display: true, drawOnChartArea: false, drawTicks: true, tickLength: 6, color: '#000', lineWidth: 2 },
    border: { display: true, color: '#000', width: 2.5 },
    title: { display: true, text: 'Time(years)', font: font(28), color: '#000', padding: { top: 0, bottom: titleBottom } },
  };
}

function swatch(ctx: CanvasRenderingContext2D, x: number, cy: number, fill: string, stroke: string) {
  ctx.fillStyle = fill;
  ctx.fillRect(x, cy - 16, 32, 32);
  ctx.strokeStyle = stroke;
  ctx.lineWidth = 4;
  ctx.beginPath();
  ctx.moveTo(x, cy);
  ctx.lineTo(x + 32, cy);
  ctx.stroke();
  ctx.lineWidth = 3;
  ctx.beginPath();
  ctx.moveTo(x + 16, cy - 7);
  ctx.lineTo(x + 16, cy + 7);
  ctx.stroke();
}

function Panel({ idx }: { idx: number }) {
  const kmRef = useRef<HTMLCanvasElement>(null);
  const rtRef = useRef<HTMLCanvasElement>(null);
  const r = Math.floor(idx / 4);
  const c = idx % 4;
  const left = COL_AXIS[c] - Y_AXIS_W;
  const top = Math.round(ROW_STEP * r);

  useEffect(() => {
    const gene = GENES[idx];
    const mut = MUT_STEPS[idx];
    const wild = WILD_STEPS[idx];
    const mEnd = MUT_END[idx];
    const wEnd = WILD_END[idx];

    const legendPlugin = {
      id: 'kmLegend',
      afterDraw(chart: any) {
        const ctx: CanvasRenderingContext2D = chart.ctx;
        const { left: l, right: rr } = chart.chartArea;
        const cx = (l + rr) / 2;
        const cy = 24;
        ctx.save();
        ctx.font = `24px ${FONT}`;
        ctx.textBaseline = 'middle';
        ctx.textAlign = 'left';
        const wG = ctx.measureText(gene).width;
        const wM = ctx.measureText(STRATA[0]).width;
        const wW = ctx.measureText(STRATA[1]).width;
        const total = wG + 15 + 32 + 13 + wM + 14 + 32 + 13 + wW;
        let x = cx - total / 2;
        ctx.fillStyle = '#000';
        ctx.fillText(gene, x, cy);
        x += wG + 15;
        swatch(ctx, x, cy, MUT_FILL, PURPLE);
        x += 32 + 13;
        ctx.fillStyle = '#000';
        ctx.fillText(STRATA[0], x, cy);
        x += wM + 14;
        swatch(ctx, x, cy, WILD_FILL, '#000');
        x += 32 + 13;
        ctx.fillStyle = '#000';
        ctx.fillText(STRATA[1], x, cy);
        ctx.restore();
      },
    };
    const pvalPlugin = {
      id: 'pval',
      afterDatasetsDraw(chart: any) {
        const ctx: CanvasRenderingContext2D = chart.ctx;
        const xs = chart.scales.x;
        const ys = chart.scales.y;
        ctx.save();
        ctx.font = `33px ${FONT}`;
        ctx.fillStyle = '#000';
        ctx.textAlign = 'left';
        ctx.textBaseline = 'middle';
        ctx.fillText('p=' + P_VALUES[idx], xs.getPixelForValue(0.32), ys.getPixelForValue(0.2));
        ctx.restore();
      },
    };

    const km = new Chart(kmRef.current as HTMLCanvasElement, {
      type: 'line',
      data: {
        datasets: [
          { data: bandData(mut, mEnd, 2), stepped: STEP_MODE, borderWidth: 0, pointRadius: 0, fill: false, order: 10 } as any,
          { data: bandData(mut, mEnd, 3), stepped: STEP_MODE, borderWidth: 0, pointRadius: 0, fill: '-1', backgroundColor: MUT_FILL, order: 10 } as any,
          { data: bandData(wild, wEnd, 2), stepped: STEP_MODE, borderWidth: 0, pointRadius: 0, fill: false, order: 9 } as any,
          { data: bandData(wild, wEnd, 3), stepped: STEP_MODE, borderWidth: 0, pointRadius: 0, fill: '-1', backgroundColor: WILD_FILL, order: 9 } as any,
          { data: lineData(mut, mEnd), stepped: STEP_MODE, borderColor: PURPLE, borderWidth: LINE_W, pointRadius: 0, fill: false, order: 8 } as any,
          { data: lineData(wild, wEnd), stepped: STEP_MODE, borderColor: '#000', borderWidth: LINE_W, pointRadius: 0, fill: false, order: 7 } as any,
          { data: censData(mut, MUT_CENS[idx]), showLine: false, pointStyle: 'cross', pointRadius: 7, pointBorderWidth: 3, borderColor: PURPLE, pointBorderColor: PURPLE, order: 6 } as any,
          { data: censData(wild, WILD_CENS[idx]), showLine: false, pointStyle: 'cross', pointRadius: 7, pointBorderWidth: 3, borderColor: '#000', pointBorderColor: '#000', order: 5 } as any,
        ],
      },
      options: {
        responsive: false,
        animation: false,
        devicePixelRatio: 1,
        events: [],
        layout: { padding: { left: 0, top: 80, right: 20, bottom: 0 }, autoPadding: false } as any,
        plugins: { legend: { display: false }, tooltip: { enabled: false }, title: { display: false } },
        scales: {
          x: xScale(KM_H - 80 - 377, 15, 0) as any,
          y: {
            type: 'linear',
            min: -0.05,
            max: 1.05,
            afterBuildTicks: (s: any) => { s.ticks = SURV_TICKS.map((v) => ({ value: v })); },
            afterFit: (s: any) => { s.width = Y_AXIS_W; },
            ticks: { font: font(24), color: '#000', padding: 4, callback: (v: any) => Number(v).toFixed(2) },
            grid: { display: true, drawOnChartArea: false, drawTicks: true, tickLength: 6, color: '#000', lineWidth: 2 },
            border: { display: true, color: '#000', width: 2.5 },
            title: { display: true, text: 'Overall survival', font: font(28), color: '#000', padding: { top: 6, bottom: 0 } },
          } as any,
        },
      },
      plugins: [legendPlugin, pvalPlugin],
    });

    const riskPlugin = {
      id: 'riskNumbers',
      afterDraw(chart: any) {
        const ctx: CanvasRenderingContext2D = chart.ctx;
        const xs = chart.scales.x;
        const ys = chart.scales.y;
        ctx.save();
        ctx.font = `24px ${FONT}`;
        ctx.fillStyle = '#000';
        ctx.textAlign = 'center';
        ctx.textBaseline = 'middle';
        TIME_TICKS.forEach((t, i) => {
          ctx.fillText(String(RISK_MUT[idx][i]), xs.getPixelForValue(t), ys.getPixelForValue(2));
          ctx.fillText(String(RISK_WILD[idx][i]), xs.getPixelForValue(t), ys.getPixelForValue(1));
        });
        ctx.restore();
      },
    };

    const rt = new Chart(rtRef.current as HTMLCanvasElement, {
      type: 'scatter',
      data: { datasets: [{ data: [], pointRadius: 0 }] },
      options: {
        responsive: false,
        animation: false,
        devicePixelRatio: 1,
        events: [],
        layout: { padding: { left: 0, top: 48, right: 20, bottom: 0 }, autoPadding: false } as any,
        plugins: { legend: { display: false }, tooltip: { enabled: false } },
        scales: {
          x: xScale(RT_H - 48 - 49, 25, 2) as any,
          y: {
            type: 'linear',
            min: 0.4,
            max: 2.6,
            afterBuildTicks: (s: any) => { s.ticks = [{ value: 1 }, { value: 2 }]; },
            afterFit: (s: any) => { s.width = Y_AXIS_W; },
            ticks: {
              font: font(24),
              padding: 7,
              color: (ctx: any) => (ctx.tick && ctx.tick.value === 2 ? PURPLE : '#000'),
              callback: (v: any) => (Number(v) === 2 ? STRATA[0] : STRATA[1]),
            },
            grid: { display: true, drawOnChartArea: false, drawTicks: true, tickLength: 6, color: '#000', lineWidth: 2 },
            border: { display: true, color: '#000', width: 2.5 },
            title: { display: true, text: gene, font: font(28), color: '#000', padding: { top: 6, bottom: 0 } },
          } as any,
        },
      },
      plugins: [riskPlugin],
    });

    return () => {
      km.destroy();
      rt.destroy();
    };
  }, [idx]);

  return (
    <>
      <canvas
        ref={kmRef}
        width={CANVAS_W}
        height={KM_H}
        style={{ position: 'absolute', left, top, width: CANVAS_W, height: KM_H }}
      />
      <canvas
        ref={rtRef}
        width={CANVAS_W}
        height={RT_H}
        style={{ position: 'absolute', left, top: top + RT_TOP, width: CANVAS_W, height: RT_H }}
      />
    </>
  );
}

export default function App() {
  useEffect(() => {
    document.body.style.margin = '0';
  }, []);
  return (
    <div style={{ position: 'relative', width: 4100, height: 3390, overflow: 'hidden', background: '#fff' }}>
      <style>{'body{margin:0;background:#fff}'}</style>
      {GENES.map((g, i) => (
        <Panel key={g} idx={i} />
      ))}
    </div>
  );
}
